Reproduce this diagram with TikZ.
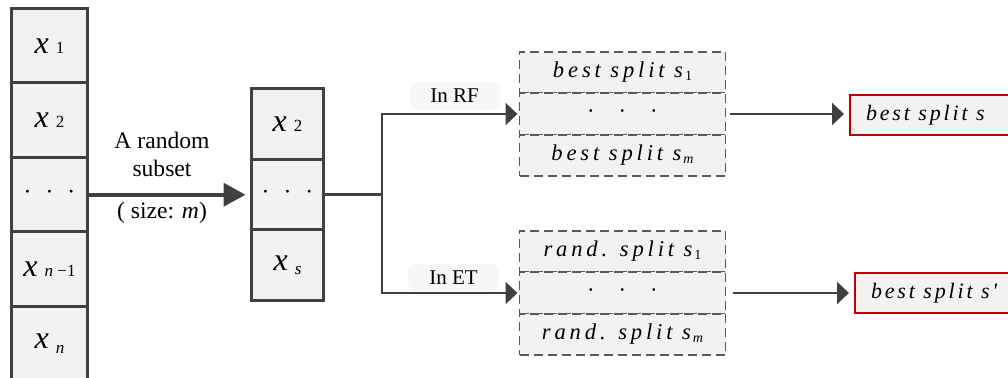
\documentclass[tikz,border=0pt]{standalone}
\usepackage{fontspec}
\setmainfont{Liberation Serif}
\newfontfamily\splitfont[LetterSpace=17]{Liberation Serif}
\newfontfamily\bestfont[LetterSpace=13]{Liberation Serif}
\usetikzlibrary{arrows.meta,positioning,calc}

\definecolor{linegray}{HTML}{404040}
\definecolor{cellgray}{HTML}{F2F2F2}
\definecolor{dashgray}{HTML}{595959}
\definecolor{tagfill}{HTML}{F7F7F7}
\definecolor{bestred}{HTML}{C00000}

\newcommand{\xsub}[2][0pt]{{\fontsize{16}{16}\selectfont\itshape x}\hspace{3.5pt}\raisebox{#1}{\fontsize{8.5}{9}\selectfont #2}}
\newcommand{\dotrow}[1]{\textperiodcentered\hspace{#1}\textperiodcentered\hspace{#1}\textperiodcentered}
\newcommand{\splitlab}[2]{{\splitfont\itshape #1}\hspace{1pt}\raisebox{-1.5pt}{\fontsize{7}{7}\selectfont #2}}
\newcommand{\bestlab}[1]{\makebox[100pt][l]{\bestfont\itshape #1}}

\begin{document}
\begin{tikzpicture}[
    x=0.5pt, y=-0.5pt,
    font=\fontsize{11.8}{14}\selectfont,
    cell/.style={rectangle, draw=linegray, fill=cellgray, line width=1.5pt,
                 minimum width=38pt, minimum height=37.25pt, inner sep=0pt, outer sep=0pt},
    subcell/.style={cell, minimum width=36pt, minimum height=35.33pt},
    splitcell/.style={rectangle, draw=dashgray, fill=cellgray, line width=0.8pt,
                      dash pattern=on 4.5pt off 2.5pt, minimum width=103pt, minimum height=20.75pt,
                      inner sep=0pt, outer sep=0pt, font=\fontsize{11.3}{12}\selectfont},
    result/.style={rectangle, draw=bestred, fill=cellgray, line width=1pt, anchor=west,
                   minimum height=20pt, inner xsep=8pt, font=\fontsize{11}{12}\selectfont},
    tag/.style={rectangle, rounded corners=5pt, fill=tagfill, minimum width=45.5pt,
                minimum height=14pt, font=\fontsize{10.5}{12}\selectfont},
    bigarrow/.style={-{Triangle[length=11pt,width=11.5pt]}, line width=2pt, draw=linegray},
    arrow/.style={-{Triangle[length=6pt,width=11pt]}, line width=1.2pt, draw=linegray},
    link/.style={line width=1.2pt, draw=linegray}
]
\useasboundingbox (0,0) rectangle (1008,378);
\clip (0,0) rectangle (1008,378);

% Nodes
\node[cell] (c1) at (49.5,45.75) {\xsub{1}};
\node[cell, below=0pt of c1] (c2) {\xsub{2}};
\node[cell, below=0pt of c2] (c3) {\dotrow{7pt}};
\node[cell, below=0pt of c3] (c4) {\xsub{\textit{n} −1}};
\node[cell, below=0pt of c4] (c5) {\xsub[-2.5pt]{\textit{n}}};

\node[subcell] (s1) at (287.5,123.8) {\xsub{2}};
\node[subcell, below=0pt of s1] (s2) {\dotrow{7pt}};
\node[subcell, below=0pt of s2] (s3) {\xsub[-2pt]{\textit{s}}};

\node[splitcell] (rf1) at (622.5,72.5) {\splitlab{best split s}{1}};
\node[splitcell, below=0pt of rf1] (rf2) {\dotrow{12pt}};
\node[splitcell, below=0pt of rf2] (rf3) {\splitlab{best split s}{\textit{m}}};

\node[splitcell] (et1) at (622.5,251.5) {\splitlab{rand. split s}{1}};
\node[splitcell, below=0pt of et1] (et2) {\dotrow{12pt}};
\node[splitcell, below=0pt of et2] (et3) {\splitlab{rand. split s}{\textit{m}}};

\node[result] (best) at (849,115.5) {\bestlab{best split s}};
\node[result] (bestp) at (854,293.5) {\bestlab{best split s'}};

% Arrows
\coordinate (fork) at (382,0);
\draw[bigarrow, shorten >=3pt] (c3.east) -- (c3.east -| s2.west);
\draw[link] (s2.east) -- (s2.east -| fork);
\draw[arrow, shorten >=1pt] (s2.east -| fork) |- (rf2.west);
\draw[arrow, shorten >=1pt] (s2.east -| fork) |- (et2.west);
\draw[arrow, shorten <=2pt, shorten >=2.5pt] (rf2.east) -- (rf2.east -| best.west);
\draw[arrow, shorten <=3.5pt, shorten >=2.5pt] (et2.east) -- (et2.east -| bestp.west);

% Labels
\node[align=center] (pick) at (162,154) {A random\\subset};
\node (size) at (162,213) {( size: \textit{m})};
\node[tag] (rftag) at (454.5,96) {In RF};
\node[tag] (ettag) at (453.5,277.5) {In ET};

\end{tikzpicture}
\end{document}
